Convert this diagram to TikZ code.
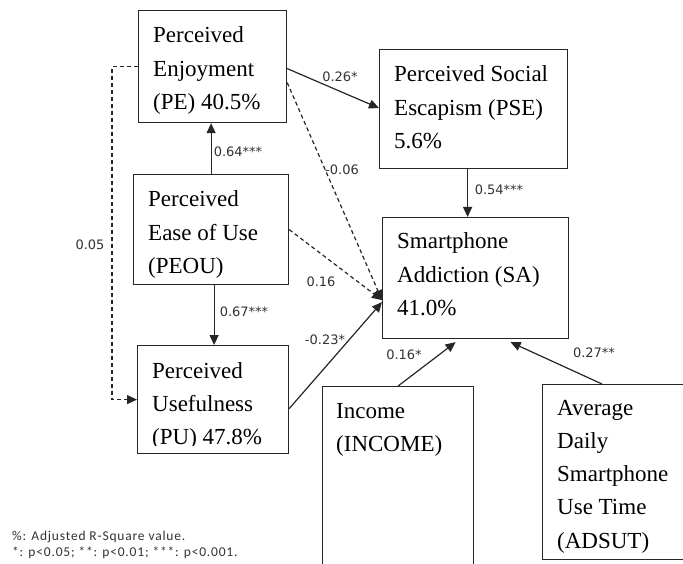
\documentclass[tikz,border=0pt]{standalone}
\usepackage{fontspec}
\setmainfont{Liberation Serif}
\newfontfamily\lblfont{DejaVu Sans}
\newfontfamily\notefont[LetterSpace=6]{Carlito}
\usetikzlibrary{arrows.meta,calc}
% multi-line box caption, baseline at its first line
\newcommand\boxlines[1]{\parbox[t]{300pt}{\raggedright\fontsize{23}{33.3}\selectfont #1}}

\begin{document}
\begin{tikzpicture}[x=1pt,y=-1pt,
  varbox/.style={draw=black!85, line width=1.2pt, anchor=north west, inner sep=0pt},
  boxtext/.style={anchor=base west, inner sep=0pt, text=black},
  sigpath/.style={draw=black!85, line width=1.2pt, -{Triangle[length=10pt,width=9pt]}},
  nspath/.style={sigpath, dash pattern=on 4pt off 3pt},
  coef/.style={font=\lblfont\fontsize{13}{13}\selectfont, text=black!80, inner sep=0pt},
  note/.style={font=\notefont\fontsize{13.5}{14}\selectfont, text=black!80, inner sep=0pt, anchor=base west}]
\useasboundingbox (0,0) rectangle (683,564);
\clip (0,0) rectangle (683,564);
\fill[white] (0,0) rectangle (683,564);

% construct boxes
\node[varbox, minimum width=148pt, minimum height=112pt] (pe)   at (138,10)  {};
\node[varbox, minimum width=188pt, minimum height=119pt] (pse)  at (379,49)  {};
\node[varbox, minimum width=155pt, minimum height=110pt] (peou) at (133,174) {};
\node[varbox, minimum width=151pt, minimum height=108pt] (pu)   at (137,345) {};
\node[varbox, minimum width=186pt, minimum height=121pt] (sa)   at (382,217) {};
\node[varbox, minimum width=151pt, minimum height=200pt] (inc)  at (322,386) {};
\node[varbox, minimum width=160pt, minimum height=175pt] (ads)  at (542,384) {};

% box captions
\node[boxtext] (peT)   at ($(pe.north west)+(15,33)$)   {\boxlines{Perceived\\Enjoyment\\(PE) 40.5\%}};
\node[boxtext] (pseT)  at ($(pse.north west)+(15,33)$)  {\boxlines{Perceived Social\\Escapism (PSE)\\5.6\%}};
\node[boxtext] (peouT) at ($(peou.north west)+(15,33)$) {\boxlines{Perceived\\Ease of Use\\(PEOU)}};
\begin{scope}
  \clip (130,340) rectangle (300,445);
  \node[boxtext] (puT) at ($(pu.north west)+(15,33)$) {\boxlines{Perceived\\Usefulness\\(PU) 47.8\%}};
\end{scope}
\node[boxtext] (saT)   at ($(sa.north west)+(15,32)$)   {\boxlines{Smartphone\\Addiction (SA)\\41.0\%}};
\node[boxtext] (incT)  at ($(inc.north west)+(14,32)$)  {\boxlines{Income\\(INCOME)}};
\node[boxtext] (adsT)  at ($(ads.north west)+(15,31)$)  {\boxlines{Average\\Daily\\Smartphone\\Use Time\\(ADSUT)}};

% structural paths
\coordinate (peouTop) at (peou.north);
\draw[sigpath] (peouTop) -- (peouTop |- pe.south);
\coordinate (peouBot) at ($(peou.south)+(3,0)$);
\draw[sigpath] (peouBot) -- (peouBot |- pu.north);
\coordinate (pseBot) at ($(pse.south)+(-6,0)$);
\draw[sigpath] (pseBot) -- (pseBot |- sa.north);
\draw[sigpath] ($(pe.east)+(0,2)$) -- ($(pse.west)+(0,-1)$);
\draw[nspath] ($(pe.east)+(0,16)$) -- ($(sa.west)+(0,22)$);
\draw[nspath] (peou.east) -- ($(sa.west)+(0,22)$);
\draw[sigpath] ($(pu.east)+(0,9)$) -- ($(sa.west)+(0,24)$);
\draw[sigpath] (inc.north) -- ($(sa.south)+(-20,3)$);
\draw[sigpath] ($(ads.north west)+(60,0)$) -- ($(sa.south)+(35,3)$);
\draw[nspath] (pe.west) -- ++(-26,0) |- (pu.west);

% path coefficients
\node[coef] (c1)  at (238,152) {0.64***};
\node[coef] (c2)  at (340,77)  {0.26*};
\node[coef] (c3)  at (342,170) {-0.06};
\node[coef] (c4)  at (321,282) {0.16};
\node[coef] (c5)  at (325,340) {-0.23*};
\node[coef] (c6)  at (244,312) {0.67***};
\node[coef] (c7)  at (499,190) {0.54***};
\node[coef] (c8)  at (404,355) {0.16*};
\node[coef] (c9)  at (594,353) {0.27**};
\node[coef] (c10) at (90,245)  {0.05};

% notes
\node[note] (n1) at (12,540) {\%: Adjusted R-Square value.};
\node[note] (n2) at (12,556) {*: p<0.05; **: p<0.01; ***: p<0.001.};
\end{tikzpicture}
\end{document}
